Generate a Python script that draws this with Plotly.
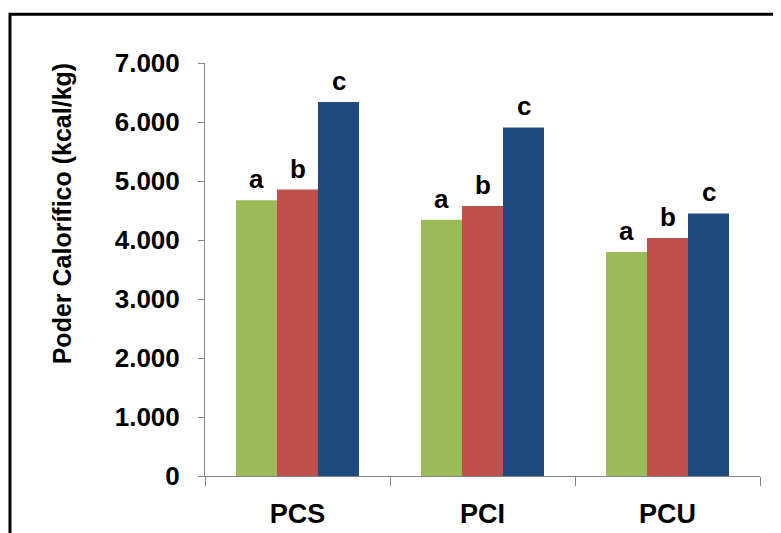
import plotly.graph_objects as go

categories = ["PCS", "PCI", "PCU"]
series_names = ["Série 1", "Série 2", "Série 3"]
green_vals = [4672, 4345, 3796]
red_vals = [4855, 4578, 4036]
blue_vals = [6340, 5908, 4451]
letters = ["a", "b", "c"]
colors = ["#9BBB59", "#C0504D", "#1F4A80"]
y_tickvals = [0, 1000, 2000, 3000, 4000, 5000, 6000, 7000]
y_title = "Poder Calorífico (kcal/kg)"

FONT = "Liberation Sans, Arial, sans-serif"
BARGAP = 0.335

series = [green_vals, red_vals, blue_vals]

fig = go.Figure()
for name, vals, col in zip(series_names, series, colors):
    fig.add_trace(go.Bar(x=categories, y=vals, name=name, marker_color=col,
                         marker_line_width=0, showlegend=False))

# letter labels above each bar, positioned from the data through the axes
bar_w = (1 - BARGAP) / len(series)
annotations = []
for k, (vals, letter) in enumerate(zip(series, letters)):
    off = (k - (len(series) - 1) / 2) * bar_w
    for i, v in enumerate(vals):
        annotations.append(dict(x=i + off, y=v, xref="x", yref="y", text=letter,
                                showarrow=False, yanchor="bottom", xanchor="center",
                                yshift=4,
                                font=dict(family=FONT, size=26, color="black", weight="bold")))

annotations.append(dict(x=-0.2577, y=0.636, xref="paper", yref="paper",
                        text=y_title, textangle=-90, showarrow=False,
                        xanchor="center", yanchor="middle",
                        font=dict(family=FONT, size=25, color="black", weight="bold")))

fig.update_layout(
    width=781, height=533,
    margin=dict(l=197, r=29, t=55, b=58),
    barmode="group", bargap=BARGAP, bargroupgap=0,
    plot_bgcolor="white", paper_bgcolor="white",
    separators=",.",
    font=dict(family=FONT, color="black"),
    annotations=annotations,
    shapes=[dict(type="rect", xref="paper", yref="paper",
                 x0=-0.3514, x1=1.2, y0=-0.3, y1=1.118,
                 line=dict(color="black", width=3), fillcolor="rgba(0,0,0,0)", layer="below")],
)
fig.update_xaxes(
    type="category", tickson="boundaries", ticks="outside", ticklen=9,
    tickcolor="#868686", showline=True, linecolor="#868686", linewidth=1,
    showgrid=False, ticklabelstandoff=14,
    tickfont=dict(family=FONT, size=27, color="black", weight="bold"),
)
fig.update_yaxes(
    range=[0, 7000], tickvals=y_tickvals, tickformat=",d",
    ticks="outside", ticklen=6, tickcolor="#868686",
    showline=True, linecolor="#868686", linewidth=1,
    showgrid=False, zeroline=False, ticklabelstandoff=13,
    tickfont=dict(family=FONT, size=26, color="black", weight="bold"),
)

fig.write_html("out.html")
